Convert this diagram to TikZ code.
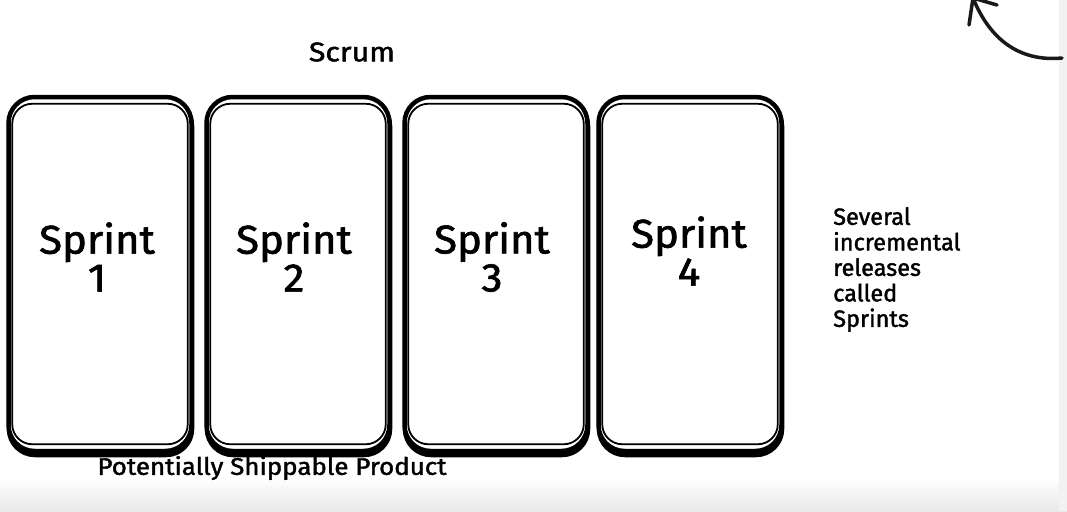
\documentclass[tikz,border=0pt]{standalone}
\usepackage{fontspec}
\setmainfont{Fira Sans}
\newfontfamily\handfont{Fira Sans}[FakeBold=1.6]
\usetikzlibrary{calc}
\begin{document}
\begin{tikzpicture}[x=1pt,y=-1pt,
  card/.style={draw=black, line width=4.5pt, rounded corners=26pt, fill=white,
    minimum width=183pt, minimum height=354pt, inner sep=0pt},
  cardshadow/.style={draw=black, line width=4.5pt, rounded corners=26pt},
  innercard/.style={draw=black, line width=1.8pt, rounded corners=20pt},
  sprinttext/.style={font=\handfont\fontsize{40}{38}\selectfont, align=center, inner sep=0pt},
  caption/.style={font=\handfont\fontsize{24}{26}\selectfont, inner sep=0pt},
  sidenote/.style={font=\handfont\fontsize{23.5}{25.5}\selectfont, align=left, inner sep=0pt, anchor=north west},
  arrowline/.style={draw=black!90, line width=3.5pt, line cap=round}
]
\useasboundingbox (0,0) rectangle (1067,511);
% soft grey edges of the canvas
\shade[top color=white, bottom color=black!9] (0,478) rectangle (1067,511);
\fill[black!5] (1059,0) rectangle (1067,511);

% title
\node[caption, font=\handfont\fontsize{27}{30}\selectfont, xscale=1.12] (title) at (352,52) {Scrum};

% sprint cards: drop shadow, outer frame, inner frame
\foreach \i/\cx in {1/100, 2/298, 3/496, 4/690} {
  \draw[cardshadow] (\cx-91,100) rectangle (\cx+92,455);
  \node[card] (s\i) at (\cx,274) {};
  \draw[innercard] ([xshift=6pt,yshift=-9pt]s\i.north west) rectangle ([xshift=-6pt,yshift=9pt]s\i.south east);
}
\node[sprinttext, xscale=1.05] (t1) at (97,257) {Sprint\\1};
\node[sprinttext, xscale=1.05] (t2) at (294,257) {Sprint\\2};
\node[sprinttext, xscale=1.05] (t3) at (492,257) {Sprint\\3};
\node[sprinttext, xscale=1.05] (t4) at (689,251) {Sprint\\4};

% captions
\node[caption, xscale=1.08] (product) at (272,468) {Potentially Shippable Product};
\node[sidenote] (note) at (833,207) {Several\\incremental\\releases\\called\\Sprints};

% curved arrow in the top right corner
\coordinate (tail) at (1062,58);
\coordinate (tip) at (973,-2);
\coordinate (barbL) at (969,25);
\coordinate (barbR) at (997,5);
\draw[arrowline] (tail) .. controls (1020,62) and (990,40) .. (tip);
\draw[arrowline] (barbL) -- (tip) -- (barbR);
\end{tikzpicture}
\end{document}
